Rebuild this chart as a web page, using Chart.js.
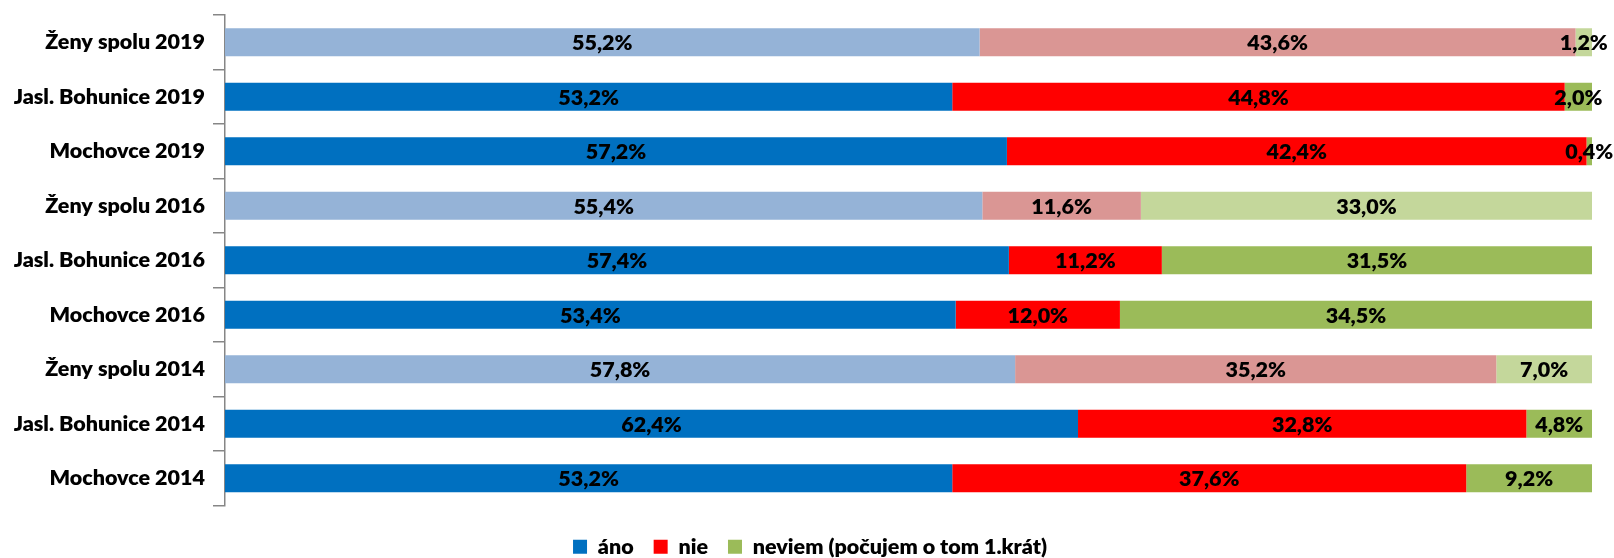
<!DOCTYPE html>
<html>
<head>
<meta charset="utf-8">
<script src="https://cdn.jsdelivr.net/npm/chart.js@4.4.1/dist/chart.umd.min.js"></script>
<style>
  html, body { margin: 0; padding: 0; background: #ffffff; }
  #wrap { width: 1614px; height: 558px; position: relative; }
</style>
</head>
<body>
<div id="wrap"><canvas id="chart"></canvas></div>
<script>
const categories = [
  "Ženy spolu 2019", "Jasl. Bohunice 2019", "Mochovce 2019",
  "Ženy spolu 2016", "Jasl. Bohunice 2016", "Mochovce 2016",
  "Ženy spolu 2014", "Jasl. Bohunice 2014", "Mochovce 2014"
];
const anoValues = [55.2, 53.2, 57.2, 55.4, 57.4, 53.4, 57.8, 62.4, 53.2];
const nieValues = [43.6, 44.8, 42.4, 11.6, 11.2, 12.0, 35.2, 32.8, 37.6];
const neviemValues = [1.2, 2.0, 0.4, 33.0, 31.5, 34.5, 7.0, 4.8, 9.2];
const seriesNames = ["áno", "nie", "neviem (počujem o tom 1.krát)"];
// rows drawn with the lighter shade
const lightRows = ["Ženy spolu 2019", "Ženy spolu 2016", "Ženy spolu 2014"];

const baseColors = ["#0070C0", "#FF0000", "#9BBB59"];
const lightColors = ["#95B3D7", "#DA9694", "#C4D79B"];
const labelFont = { family: "Lato", weight: "800", size: 21.5 };

const totals = categories.map((_, i) => anoValues[i] + nieValues[i] + neviemValues[i]);

function toShare(values) {
  return values.map((v, i) => v / totals[i] * 100);
}

function formatPct(v) {
  return v.toFixed(1).replace(".", ",") + "%";
}

function makeDataset(name, values, s) {
  return {
    label: name,
    data: toShare(values),
    raw: values,
    backgroundColor: categories.map((c) => lightRows.includes(c) ? lightColors[s] : baseColors[s]),
    borderWidth: 0,
    barPercentage: 0.51,
    categoryPercentage: 1
  };
}

const barLabels = {
  id: "barLabels",
  afterDatasetsDraw(chart) {
    const ctx = chart.ctx;
    ctx.save();
    ctx.font = `${labelFont.weight} ${labelFont.size}px ${labelFont.family}`;
    ctx.fillStyle = "#000000";
    ctx.textAlign = "center";
    ctx.textBaseline = "middle";
    chart.data.datasets.forEach((ds, di) => {
      chart.getDatasetMeta(di).data.forEach((bar, i) => {
        ctx.fillText(formatPct(ds.raw[i]), (bar.x + bar.base) / 2, bar.y + 1);
      });
    });
    ctx.restore();
  }
};

// legend is centred on the whole picture, not on the area left of the right margin
const legendShift = {
  id: "legendShift",
  afterLayout(chart) {
    chart.legend.left = 28;
  }
};

new Chart(document.getElementById("chart"), {
  type: "bar",
  data: {
    labels: categories,
    datasets: [
      makeDataset(seriesNames[0], anoValues, 0),
      makeDataset(seriesNames[1], nieValues, 1),
      makeDataset(seriesNames[2], neviemValues, 2)
    ]
  },
  options: {
    indexAxis: "y",
    responsive: true,
    maintainAspectRatio: false,
    animation: false,
    layout: { padding: { top: 15, right: 22, bottom: -9.5, left: 0 } },
    plugins: {
      tooltip: { enabled: false },
      legend: {
        position: "bottom",
        labels: {
          color: "#000000",
          font: labelFont,
          boxWidth: 14,
          boxHeight: 14,
          padding: 20,
          generateLabels: (chart) => chart.data.datasets.map((ds, i) => ({
            text: ds.label,
            fillStyle: baseColors[i],
            strokeStyle: baseColors[i],
            lineWidth: 0,
            fontColor: "#000000",
            datasetIndex: i
          }))
        }
      }
    },
    scales: {
      x: {
        stacked: true,
        min: 0,
        max: 100,
        grid: { display: false },
        border: { display: false },
        ticks: { display: false },
        afterFit(scale) { scale.height = 10.5; }
      },
      y: {
        stacked: true,
        grid: { drawOnChartArea: false, offset: true, tickLength: 12, color: "#868686", lineWidth: 1.5 },
        border: { color: "#868686", width: 1.5 },
        ticks: { color: "#000000", font: labelFont, padding: 8 },
        afterFit(scale) {
          scale.width = 225;
          scale.paddingTop = 0;
          scale.paddingBottom = 0;
        }
      }
    }
  },
  plugins: [barLabels, legendShift]
});
</script>
</body>
</html>
